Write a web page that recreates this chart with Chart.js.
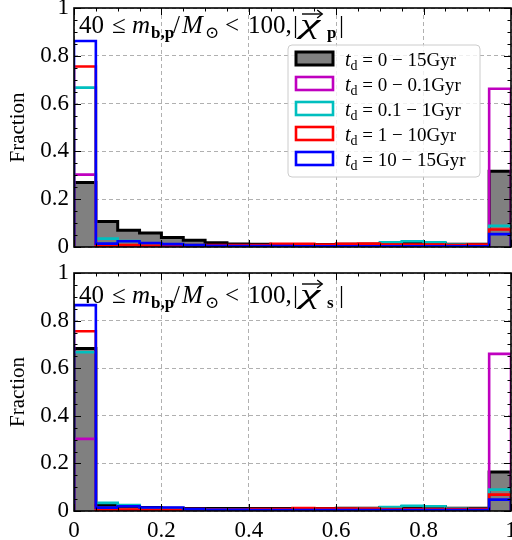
<!DOCTYPE html>
<html><head><meta charset="utf-8">
<script src="https://cdn.jsdelivr.net/npm/chart.js@4/dist/chart.umd.min.js"></script>
<style>
html,body{margin:0;padding:0;background:#fff;}
#wrap{position:relative;width:512px;height:540px;overflow:hidden;background:#fff}
canvas{position:absolute;left:0}
#c1{top:0}
#c2{top:260px}
</style></head><body>
<div id="wrap"><canvas id="c1" width="512" height="260"></canvas><canvas id="c2" width="512" height="280"></canvas></div>
<script>
// ---- data ----
const binEdges = [0,0.05,0.10,0.15,0.20,0.25,0.30,0.35,0.40,0.45,0.50,0.55,0.60,0.65,0.70,0.75,0.80,0.85,0.90,0.95];
const xTickLabels = ['0','0.2','0.4','0.6','0.8','1'];
const yTickLabels = ['0','0.2','0.4','0.6','0.8','1'];
const seriesLabels = ['0 \u2212 15Gyr','0 \u2212 0.1Gyr','0.1 \u2212 1Gyr','1 \u2212 10Gyr','10 \u2212 15Gyr'];
const panelSubscripts = ['p','s'];

// top panel |chi_p|
const topAll   = [0.270,0.107,0.070,0.059,0.040,0.028,0.018,0.013,0.011,0.010,0.010,0.010,0.012,0.012,0.015,0.016,0.015,0.012,0.012,0.317];
const topT01   = [0.303,0.003,0.002,0.002,0.002,0.002,0.002,0.002,0.002,0.002,0.002,0.002,0.002,0.002,0.002,0.002,0.002,0.002,0.002,0.662];
const topT1    = [0.667,0.035,0.025,0.012,0.010,0.008,0.006,0.005,0.005,0.005,0.006,0.006,0.008,0.012,0.020,0.024,0.020,0.010,0.008,0.089];
const topT10   = [0.755,0.003,0.008,0.006,0.008,0.008,0.008,0.008,0.008,0.013,0.013,0.010,0.013,0.014,0.010,0.010,0.010,0.008,0.010,0.073];
const topT15   = [0.862,0.014,0.024,0.017,0.012,0.008,0.005,0.004,0.004,0.004,0.003,0.003,0.003,0.003,0.003,0.003,0.003,0.003,0.003,0.054];

// bottom panel |chi_s|
const botAll   = [0.683,0.025,0.020,0.015,0.012,0.010,0.010,0.010,0.010,0.010,0.010,0.010,0.012,0.012,0.015,0.018,0.018,0.012,0.012,0.164];
const botT01   = [0.303,0.003,0.002,0.002,0.002,0.002,0.002,0.002,0.002,0.002,0.002,0.002,0.002,0.002,0.002,0.002,0.002,0.002,0.002,0.660];
const botT1    = [0.667,0.034,0.025,0.010,0.008,0.006,0.006,0.005,0.005,0.005,0.005,0.006,0.008,0.010,0.017,0.022,0.020,0.010,0.008,0.090];
const botT10   = [0.755,0.003,0.006,0.005,0.005,0.008,0.006,0.006,0.008,0.008,0.012,0.010,0.010,0.010,0.008,0.008,0.008,0.008,0.008,0.069];
const botT15   = [0.865,0.014,0.020,0.015,0.015,0.008,0.005,0.005,0.004,0.004,0.004,0.004,0.004,0.004,0.004,0.004,0.004,0.004,0.004,0.048];

const seriesColors = ['#000000','#bf00bf','#00bfbf','#ff0000','#0000ff'];
const SERIF = '"Liberation Serif","DejaVu Serif",serif';

function stepPoints(vals){
  const pts=[{x:0,y:0}];
  for(let i=0;i<vals.length;i++) pts.push({x:binEdges[i],y:vals[i]});
  pts.push({x:1,y:0});
  return pts;
}

function makeDatasets(all,t01,t1,t10,t15){
  const arr=[all,t01,t1,t10,t15];
  return arr.map((v,i)=>({
    label: seriesLabels[i],
    data: stepPoints(v),
    stepped: 'before',
    borderColor: seriesColors[i],
    borderWidth: i===0?3:2.6,
    backgroundColor: i===0?'#808080':'rgba(0,0,0,0)',
    fill: i===0?'origin':false,
    pointRadius: 0,
    borderJoinStyle:'miter',
    borderCapStyle:'butt',
    order: 4-i
  }));
}

// runs placed at offsets (dx) from a start x
function drawRuns(ctx,x0,y,runs){
  ctx.textBaseline='alphabetic'; ctx.textAlign='left'; ctx.fillStyle='#000';
  let x=x0;
  for(const r of runs){
    ctx.font=r.f;
    if(r.dx!==undefined) x=x0+r.dx;
    const sx=r.sx||1;
    ctx.save(); ctx.translate(x,y+(r.dy||0)); ctx.scale(sx,1);
    ctx.fillText(r.t,0,0);
    ctx.restore();
    const w=ctx.measureText(r.t).width*sx;
    if(r.arrow){
      const ay=y-19, a0=x+2, a1=x+w+2;
      ctx.save(); ctx.strokeStyle='#000'; ctx.lineWidth=1.4;
      ctx.beginPath(); ctx.moveTo(a0,ay); ctx.lineTo(a1,ay); ctx.stroke();
      ctx.beginPath(); ctx.moveTo(a1-5,ay-4); ctx.lineTo(a1,ay); ctx.lineTo(a1-5,ay+4); ctx.stroke();
      ctx.restore();
    }
    x+=w+(r.sp||0);
  }
  return x;
}

const framePlugin = {
  id:'frame',
  afterDraw(chart,args,opts){
    const ctx=chart.ctx, ca=chart.chartArea, xs=chart.scales.x, ys=chart.scales.y;
    ctx.save();
    ctx.strokeStyle='#000'; ctx.lineWidth=1;
    ctx.beginPath();
    for(let i=0;i<=20;i++){
      const v=i/20, L=(i%4===0)?7:3.5;
      const px=Math.round(xs.getPixelForValue(v))+0.5;
      ctx.moveTo(px,ca.bottom); ctx.lineTo(px,ca.bottom-L);
      ctx.moveTo(px,ca.top); ctx.lineTo(px,ca.top+L);
      const py=Math.round(ys.getPixelForValue(v))+0.5;
      ctx.moveTo(ca.left,py); ctx.lineTo(ca.left+L,py);
      ctx.moveTo(ca.right,py); ctx.lineTo(ca.right-L,py);
    }
    ctx.stroke();
    ctx.lineWidth=1.6;
    ctx.strokeRect(ca.left,ca.top,ca.right-ca.left,ca.bottom-ca.top);
    // panel title
    const R='25px '+SERIF, I='italic 25px '+SERIF, B='bold 17px '+SERIF, S='17px '+SERIF;
    drawRuns(ctx, ca.left, ca.top+opts.titleDy, [
      {t:'40',f:R,dx:5},{t:'\u2264',f:R,dx:38},{t:'m',f:I,dx:58},{t:'b,p',f:B,dy:5,dx:77},{t:'/',f:R,dx:99},
      {t:'M',f:I,dx:108},{t:'\u2299',f:S,dy:5,dx:131},
      {t:'<',f:R,dx:151},{t:'100,',f:R,dx:174},{t:'|',f:R,dx:219},{t:'\u03c7',f:'italic 27px '+SERIF,sx:1.7,arrow:true,dx:226},
      {t:opts.sub,f:B,dy:5,dx:253},{t:'|',f:R,dx:265}
    ]);
    // legend
    if(opts.legend){
      const bx=288,by=45,bw=192,bh=132,r=4;
      ctx.beginPath();
      ctx.moveTo(bx+r,by); ctx.lineTo(bx+bw-r,by); ctx.quadraticCurveTo(bx+bw,by,bx+bw,by+r);
      ctx.lineTo(bx+bw,by+bh-r); ctx.quadraticCurveTo(bx+bw,by+bh,bx+bw-r,by+bh);
      ctx.lineTo(bx+r,by+bh); ctx.quadraticCurveTo(bx,by+bh,bx,by+bh-r);
      ctx.lineTo(bx,by+r); ctx.quadraticCurveTo(bx,by,bx+r,by); ctx.closePath();
      ctx.fillStyle='rgba(255,255,255,0.8)'; ctx.fill();
      ctx.strokeStyle='#cccccc'; ctx.lineWidth=1; ctx.stroke();
      chart.data.datasets.forEach((ds,i)=>{
        const cy=58.5+i*25;
        ctx.fillStyle=i===0?'#808080':'#ffffff';
        ctx.fillRect(296,cy-6.5,37,13);
        ctx.strokeStyle=ds.borderColor; ctx.lineWidth=i===0?3:2.6;
        ctx.strokeRect(296,cy-6.5,37,13);
        drawRuns(ctx,345,cy+7,[
          {t:'t',f:'italic 20px '+SERIF},{t:'d',f:'14px '+SERIF,dy:4},{t:' = '+ds.label,f:'19px '+SERIF}
        ]);
      });
    }
    ctx.restore();
  }
};

function makeChart(id,datasets,isTop){
  const xH = isTop?13:29;
  return new Chart(document.getElementById(id),{
    type:'line',
    data:{datasets},
    options:{
      responsive:false, animation:false, devicePixelRatio:1,
      layout:{padding:{top:isTop?8:13,right:1,left:0,bottom:0}},
      plugins:{legend:{display:false},tooltip:{enabled:false},
        frame:{titleDy:isTop?25:30, sub:panelSubscripts[isTop?0:1], legend:isTop}},
      scales:{
        x:{type:'linear',min:0,max:1,
          ticks:{display:!isTop,stepSize:0.2,padding:6,color:'#000',
            font:{family:SERIF,size:23},
            callback:(v)=>xTickLabels[Math.round(v*5)]},
          grid:{color:'#b0b0b0',lineWidth:1,drawTicks:false},
          border:{display:false,dash:[4,3]},
          afterFit:(s)=>{s.height=xH;s.paddingLeft=0;s.paddingRight=0;}
        },
        y:{type:'linear',min:0,max:1,
          ticks:{stepSize:0.2,padding:5,color:'#000',
            font:{family:SERIF,size:23},
            callback:(v)=>yTickLabels[Math.round(v*5)]},
          grid:{color:'#b0b0b0',lineWidth:1,drawTicks:false},
          border:{display:false,dash:[4,3]},
          title:{display:true,text:'Fraction',color:'#000',font:{family:SERIF,size:21,lineHeight:1.2},padding:{top:6,bottom:0}},
          afterFit:(s)=>{s.width=74;s.paddingTop=0;s.paddingBottom=0;}
        }
      }
    },
    plugins:[framePlugin]
  });
}

makeChart('c1',makeDatasets(topAll,topT01,topT1,topT10,topT15),true);
makeChart('c2',makeDatasets(botAll,botT01,botT1,botT10,botT15),false);
</script>
</body></html>
